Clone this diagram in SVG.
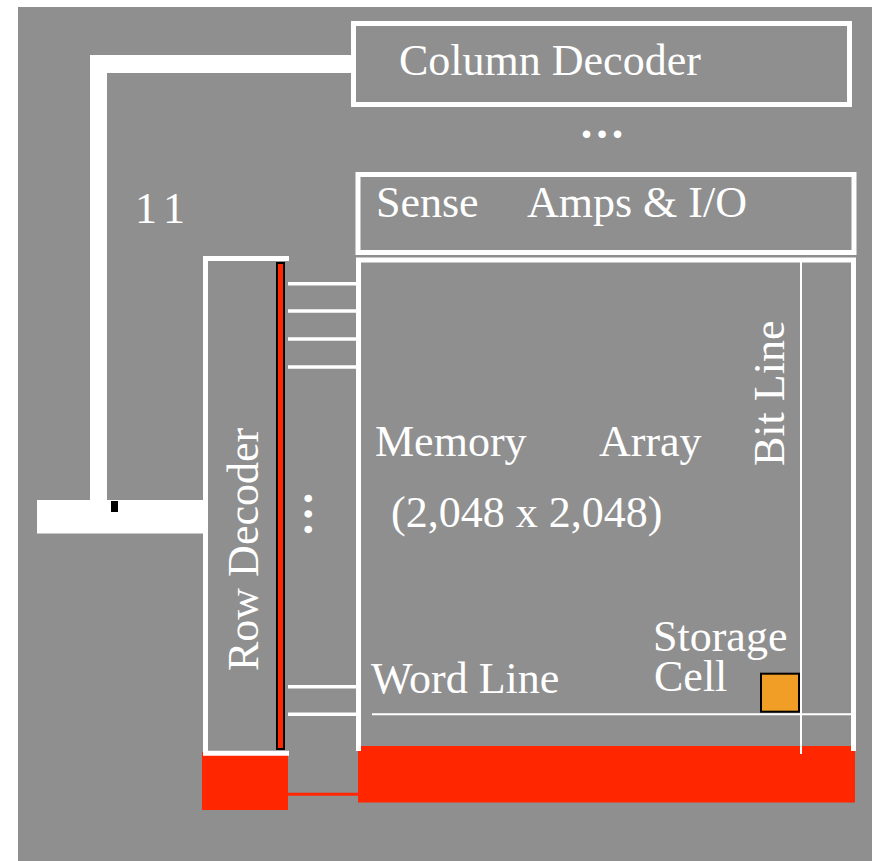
<svg xmlns="http://www.w3.org/2000/svg" width="872" height="861" viewBox="0 0 872 861">
<style>
.t{font-family:"Liberation Serif","Times New Roman",serif;font-size:44px;fill:#ffffff}
.dots{font-weight:bold;font-size:46px}
.box{fill:none;stroke:#ffffff;stroke-width:5}
.wl{stroke:#ffffff;stroke-width:3.5}
.red{fill:#ff2600}
.bus{fill:#ffffff}
</style>
<rect x="0" y="0" width="872" height="861" fill="#ffffff"/>
<rect x="18" y="7" width="854" height="854" fill="#8f8f8f"/>

<g id="connectors">
  <rect class="bus" x="90" y="55" width="263" height="18"/>
  <rect class="bus" x="90" y="55" width="17" height="446"/>
  <rect class="bus" x="37" y="500" width="166" height="33.5"/>
  <rect x="111" y="501" width="7" height="11" fill="#000000"/>
  <line class="wl" x1="288" y1="283.7" x2="357" y2="283.7"/>
  <line class="wl" x1="288" y1="311" x2="357" y2="311"/>
  <line class="wl" x1="288" y1="339" x2="357" y2="339"/>
  <line class="wl" x1="288" y1="367" x2="357" y2="367"/>
  <line class="wl" x1="288" y1="686.7" x2="357" y2="686.7"/>
  <line class="wl" x1="288" y1="714.3" x2="357" y2="714.3"/>
  <line x1="287" y1="794.3" x2="359" y2="794.3" stroke="#ff2600" stroke-width="3"/>
  <text class="t dots" x="602" y="138" text-anchor="middle">…</text>
  <text class="t dots" transform="translate(312,514) rotate(-90)" text-anchor="middle">…</text>
</g>

<g id="column-decoder">
  <rect class="box" x="353.5" y="23.5" width="496" height="81"/>
  <text class="t" x="399" y="75">Column Decoder</text>
</g>

<g id="address-label">
  <text class="t" x="135" y="223" word-spacing="-5">1 1</text>
</g>

<g id="sense-amps">
  <rect class="box" x="358" y="174.5" width="496" height="78"/>
  <text class="t" x="376" y="217">Sense</text>
  <text class="t" x="527" y="217">Amps &amp; I/O</text>
</g>

<g id="row-decoder">
  <rect class="red" x="202" y="752" width="86" height="58"/>
  <path class="box" d="M289,258.5 H205.5 V753.3 H289"/>
  <rect x="277" y="263" width="7" height="486" fill="#ff2600" stroke="#000000" stroke-width="2"/>
  <text class="t" transform="translate(258,671) rotate(-90)">Row Decoder</text>
</g>

<g id="memory-array">
  <rect class="red" x="358" y="746" width="497" height="56.5"/>
  <path class="box" d="M358.5,751 V260 H853.5 V751"/>
  <line x1="372" y1="714.3" x2="851" y2="714.3" stroke="#ffffff" stroke-width="2"/>
  <line x1="801" y1="262" x2="801" y2="754" stroke="#ffffff" stroke-width="2"/>
  <text class="t" x="375" y="456">Memory</text>
  <text class="t" x="599" y="456">Array</text>
  <text class="t" x="391" y="527">(2,048 x 2,048)</text>
  <text class="t" x="371" y="693">Word Line</text>
  <text class="t" transform="translate(784,466) rotate(-90)">Bit Line</text>
</g>

<g id="storage-cell">
  <rect x="761" y="673.7" width="38" height="38" fill="#f09e26" stroke="#000000" stroke-width="2"/>
  <text class="t" x="653" y="651">Storage</text>
  <text class="t" x="654" y="691">Cell</text>
</g>
</svg>
